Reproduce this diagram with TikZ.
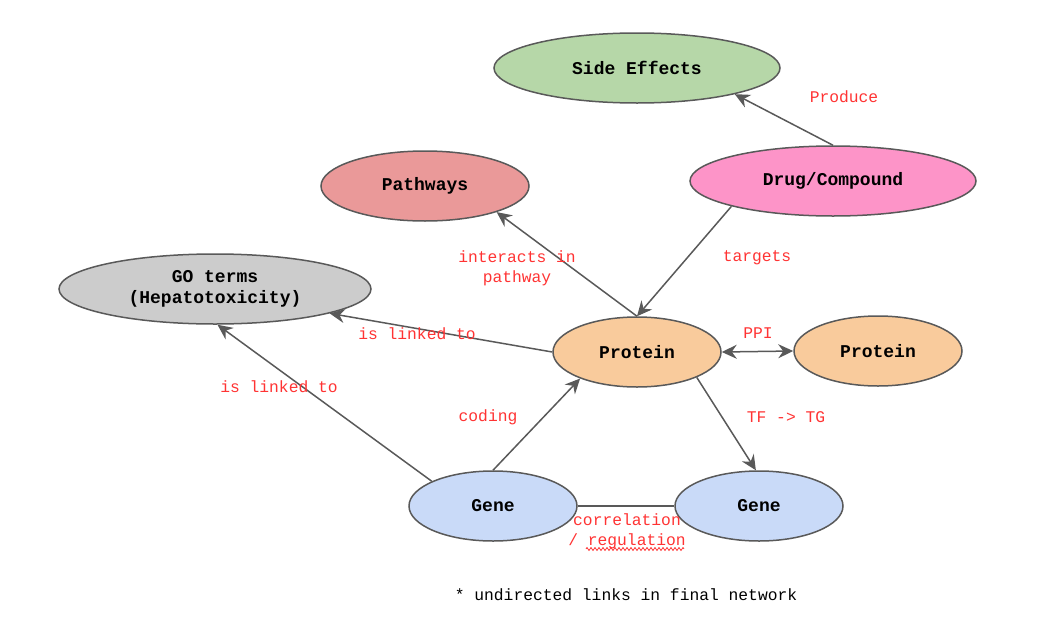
\documentclass[tikz,border=0pt]{standalone}
\usepackage{fontspec}
\setmonofont{Liberation Mono}
\usetikzlibrary{shapes.geometric,arrows.meta,decorations.pathmorphing}
\definecolor{edgegray}{HTML}{595959}
\definecolor{lblred}{HTML}{FF3333}
\definecolor{cgreen}{HTML}{B6D7A8}
\definecolor{cred}{HTML}{EA9999}
\definecolor{cpink}{HTML}{FD94C8}
\definecolor{cgray}{HTML}{CCCCCC}
\definecolor{corange}{HTML}{F9CB9C}
\definecolor{cblue}{HTML}{C9DAF8}
\begin{document}
\begin{tikzpicture}[x=1pt,y=-1pt,
  ent/.style={ellipse,draw=edgegray,line width=1.5pt,inner sep=0pt,
    minimum height=70pt,align=center,
    font=\ttfamily\bfseries\fontsize{18}{21}\selectfont},
  conn/.style={draw=edgegray,line width=1.5pt},
  arr/.style={conn,-{Stealth[length=15pt,width=14pt,inset=5pt]}},
  lbl/.style={text=lblred,align=center,inner sep=0pt,
    font=\ttfamily\fontsize{16.3}{20}\selectfont}]
\useasboundingbox (0,0) rectangle (1060,632);
\node[ent,fill=cgreen,minimum width=286pt] (side) at (637,68) {Side Effects};
\node[ent,fill=cred,minimum width=208pt] (path) at (425,186) {Pathways};
\node[ent,fill=cpink,minimum width=286pt] (drug) at (833,181) {Drug/Compound};
\node[ent,fill=cgray,minimum width=312pt] (go) at (215,289) {GO terms\\(Hepatotoxicity)};
\node[ent,fill=corange,minimum width=168pt] (prot) at (637,352) {Protein};
\node[ent,fill=corange,minimum width=168pt] (prot2) at (878,351) {Protein};
\node[ent,fill=cblue,minimum width=168pt] (genel) at (493,506) {Gene};
\node[ent,fill=cblue,minimum width=168pt] (gener) at (759,506) {Gene};

\draw[arr] (drug.north) -- (side.-15);
\draw[arr] (drug.194) -- (prot.north);
\draw[arr] (prot.north) -- (path.-20);
\draw[arr] (prot.west) -- (go.-12);
\draw[arr] (genel.158) -- (go.-86);
\draw[arr] (genel.north) -- (prot.205);
\draw[arr] (prot.-23) -- (gener.95);
\draw[conn,{Stealth[length=15pt,width=14pt,inset=5pt]}-{Stealth[length=15pt,width=14pt,inset=5pt]}] (prot.east) -- (prot2.west);
\draw[conn] (genel.east) -- (gener.west);

\node[lbl] (lproduce) at (844,97) {Produce};
\node[lbl] (ltargets) at (757,258) {targets};
\node[lbl] (linter) at (517,268) {interacts in\\pathway};
\node[lbl] (llink1) at (417,334) {is linked to};
\node[lbl] (llink2) at (279,387) {is linked to};
\node[lbl] (lppi) at (758,333) {PPI};
\node[lbl] (lcoding) at (488,417) {coding};
\node[lbl] (ltf) at (786,417) {TF -> TG};
\node[lbl] (lcorr) at (627,531) {correlation\\/ regulation};
\coordinate (wavea) at (586,549);
\coordinate (waveb) at (684,549);
\draw[lblred,line width=0.8pt,decorate,decoration={zigzag,amplitude=1.5pt,segment length=4pt}] (wavea) -- (waveb);
\node[inner sep=0pt,font=\ttfamily\fontsize{16.3}{20}\selectfont] (note) at (626,595) {* undirected links in final network};
\end{tikzpicture}
\end{document}
